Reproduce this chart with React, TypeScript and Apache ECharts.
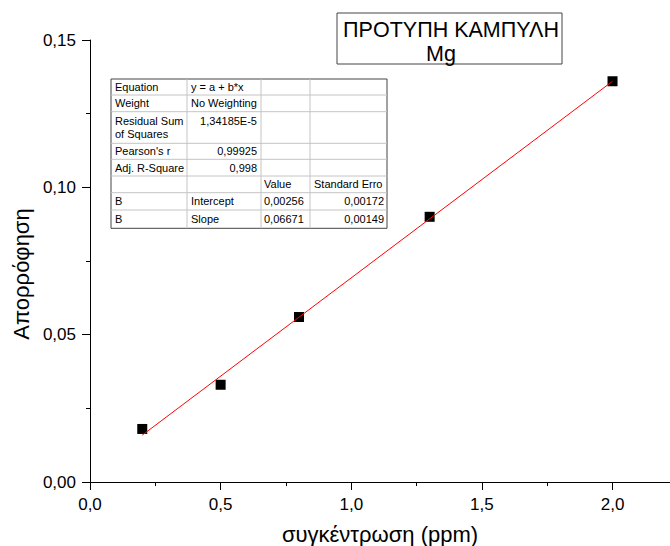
import React, { useEffect, useRef } from "react";
import * as echarts from "echarts";

const xValues = [0.2, 0.5, 0.8, 1.3, 2.0];
const yValues = [0.018, 0.033, 0.056, 0.09, 0.136];
const fitX = [0.2, 2.0];
const fitY = [0.0159, 0.136];
const xMajorTicks = [0, 0.5, 1.0, 1.5, 2.0];
const xMinorTicks = [0.25, 0.75, 1.25, 1.75];
const titleLines = ["ΠΡΟΤΥΠΗ ΚΑΜΠΥΛΗ", "Mg"];
const xAxisName = "συγκέντρωση (ppm)";
const yAxisName = "Απορρόφηση";

const tableCol1 = ["Equation", "Weight", "Residual Sum\nof Squares", "Pearson's r", "Adj. R-Square", "", "B", "B"];
const tableCol2 = ["y = a + b*x", "No Weighting", "1,34185E-5", "0,99925", "0,998", "", "Intercept", "Slope"];
const tableCol3 = ["", "", "", "", "", "Value", "0,00256", "0,06671"];
const tableCol4 = ["", "", "", "", "", "Standard Erro", "0,00172", "0,00149"];

const FONT = "'Liberation Sans', Arial, sans-serif";

export default function App() {
  const ref = useRef<HTMLDivElement>(null);
  useEffect(() => {
    document.body.style.margin = "0";
    if (!ref.current) return;
    const chart = echarts.init(ref.current, null, { renderer: "svg" });

    const colX = [111, 187, 261, 310, 387];
    const rowY = [79, 95, 111.7, 143.3, 159.3, 176, 192.7, 210, 228.3];
    const g: any[] = [];
    g.push({ type: "rect", shape: { x: colX[0], y: rowY[0], width: colX[4] - colX[0], height: rowY[8] - rowY[0] }, style: { fill: "#fff", stroke: "#444", lineWidth: 1 }, z: 10 });
    for (let i = 1; i < rowY.length - 1; i++) {
      g.push({ type: "line", shape: { x1: colX[0], y1: rowY[i], x2: colX[4], y2: rowY[i] }, style: { stroke: "#c4c4c4", lineWidth: 1 }, z: 11 });
    }
    for (let j = 1; j < colX.length - 1; j++) {
      g.push({ type: "line", shape: { x1: colX[j], y1: rowY[0], x2: colX[j], y2: rowY[8] }, style: { stroke: "#c4c4c4", lineWidth: 1 }, z: 11 });
    }
    const txt = (text: string, x: number, y: number, align: string, vAlign = "middle") => {
      if (!text) return;
      g.push({
        type: "text", x, y, z: 12,
        style: { text, font: `11px ${FONT}`, fill: "#000", align, verticalAlign: vAlign, textAlign: align, textVerticalAlign: vAlign, lineHeight: 13 },
      });
    };
    for (let r = 0; r < 8; r++) {
      const mid = (rowY[r] + rowY[r + 1]) / 2;
      txt(tableCol1[r], colX[0] + 4, mid, "left");
      const rightAligned2 = r >= 2 && r <= 4;
      if (r === 2) txt(tableCol2[r], colX[2] - 4, rowY[r] + 3, "right", "top");
      else txt(tableCol2[r], rightAligned2 ? colX[2] - 4 : colX[1] + 4, mid, rightAligned2 ? "right" : "left");
      txt(tableCol3[r], colX[2] + 3, mid, "left");
      txt(tableCol4[r], r === 5 ? colX[3] + 4 : colX[4] - 3, mid, r === 5 ? "left" : "right");
    }
    g.push({ type: "rect", shape: { x: 337, y: 13, width: 225, height: 51 }, style: { fill: "#fff", stroke: "#444", lineWidth: 1 }, z: 10 });
    g.push({ type: "text", x: 451, y: 30, z: 12, style: { text: titleLines[0], font: `21.5px ${FONT}`, fill: "#000", align: "center", verticalAlign: "middle", textAlign: "center", textVerticalAlign: "middle" } });
    g.push({ type: "text", x: 441, y: 54, z: 12, style: { text: titleLines[1], font: `21.5px ${FONT}`, fill: "#000", align: "center", verticalAlign: "middle", textAlign: "center", textVerticalAlign: "middle" } });

    const fmt1 = (v: number) => v.toFixed(1).replace(".", ",");
    const fmt2 = (v: number) => v.toFixed(2).replace(".", ",");

    chart.setOption({
      animation: false,
      backgroundColor: "#fff",
      textStyle: { fontFamily: FONT },
      grid: { left: 90, top: 40, right: 0, bottom: 64, containLabel: false, outerBoundsMode: "none" },
      xAxis: [
        {
          type: "value", min: 0, max: 2.22, interval: 0.5,
          axisLine: { show: true, onZero: false, lineStyle: { color: "#000", width: 1 } },
          axisTick: { show: true, customValues: xMajorTicks, length: 8, lineStyle: { color: "#000" } },
          axisLabel: { customValues: xMajorTicks, formatter: fmt1, fontSize: 17, color: "#000", margin: 14, fontFamily: FONT },
          splitLine: { show: false },
          name: xAxisName, nameLocation: "middle", nameGap: 41,
          nameTextStyle: { fontSize: 22, color: "#000", fontFamily: FONT },
        },
        {
          type: "value", min: 0, max: 2.22, position: "bottom",
          axisLine: { show: false, onZero: false },
          axisTick: { show: true, customValues: xMinorTicks, length: 4, lineStyle: { color: "#000" } },
          axisLabel: { show: false },
          splitLine: { show: false },
        },
      ],
      yAxis: {
        type: "value", min: 0, max: 0.15, interval: 0.05,
        axisLine: { show: true, onZero: false, lineStyle: { color: "#000", width: 1 } },
        axisTick: { show: true, length: 8, lineStyle: { color: "#000" } },
        minorTick: { show: true, splitNumber: 2, length: 4, lineStyle: { color: "#000" } },
        axisLabel: { formatter: fmt2, fontSize: 17, color: "#000", margin: 14, fontFamily: FONT },
        splitLine: { show: false },
        name: yAxisName, nameLocation: "middle", nameGap: 51,
        nameTextStyle: { fontSize: 22, color: "#000", fontFamily: FONT, padding: [0, 26, 0, 0] },
      },
      series: [
        {
          type: "scatter", symbol: "rect", symbolSize: 10, z: 2,
          itemStyle: { color: "#000", opacity: 1 },
          data: xValues.map((x, i) => [x, yValues[i]]),
        },
        {
          type: "line", symbol: "none", z: 3,
          lineStyle: { color: "#ff0000", width: 1 },
          data: fitX.map((x, i) => [x, fitY[i]]),
        },
      ],
      graphic: g,
    });
    return () => chart.dispose();
  }, []);
  return <div ref={ref} style={{ width: 670, height: 546 }} />;
}
